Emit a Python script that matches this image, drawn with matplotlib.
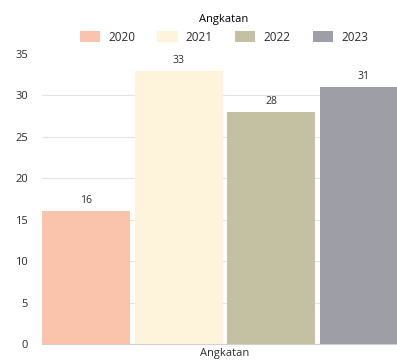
import matplotlib.pyplot as plt
import numpy as np

plt.rcParams['font.family'] = ['Open Sans', 'DejaVu Sans']

years = ["2020", "2021", "2022", "2023"]
counts = [16, 33, 28, 31]
colors = ["#fac4ac", "#fdf4db", "#c4c1a2", "#9e9ea6"]
yticks = [0, 5, 10, 15, 20, 25, 30, 35]

fig = plt.figure(figsize=(3.97, 3.60), dpi=100)
ax = fig.add_axes([42 / 397, 16 / 360, 366 / 397, 290 / 360])

w = 0.955
x = np.arange(len(years))
bars = ax.bar(x, counts, width=w, color=colors, label=years, zorder=2)
for xi, c in zip(x, counts):
    ax.text(xi, c + 0.6, str(c), ha='center', va='bottom', fontsize=7.5, color='#2b2b2b')

ax.set_xlim(-w / 2, len(years) - 1 + w / 2)
ax.set_ylim(0, 35)
ax.set_yticks(yticks)
ax.set_xticks([])
ax.tick_params(axis='y', length=0, pad=10, labelsize=8, labelcolor='#2b2b2b')
ax.grid(axis='y', color='#e3e3e3', linewidth=0.8, zorder=0)
ax.get_ygridlines()[-1].set_visible(False)
for s in ['top', 'right', 'left']:
    ax.spines[s].set_visible(False)
ax.spines['bottom'].set_color('#d0d0d0')
ax.spines['bottom'].set_linewidth(0.8)
ax.set_xlabel("Angkatan", fontsize=8, color='#2b2b2b', labelpad=3)

fig.legend(handles=bars, labels=years, title="Angkatan", ncol=4, loc='upper center',
           bbox_to_anchor=(224 / 397, 0.985), frameon=False, fontsize=8.5, title_fontsize=8,
           handlelength=1.7, handleheight=1.0, columnspacing=1.9, handletextpad=0.7,
           borderaxespad=0.3, labelcolor='#2b2b2b')

fig.savefig("out.png", dpi=100)
